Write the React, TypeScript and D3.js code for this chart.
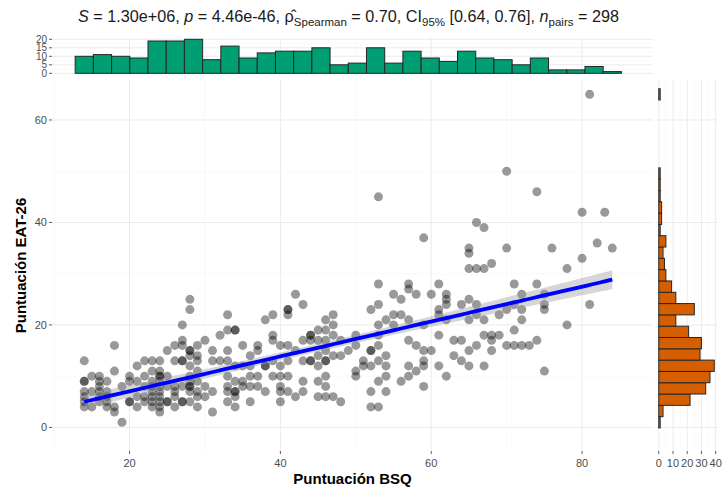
import React from "react";
import * as d3 from "d3";

// ---- data ----
const bsq = [
  14,14,14,14,14,14,14,15,15,15,
  16,16,16,16,16,16,17,17,17,17,17,
  18,18,18,18,19,19,20,20,20,20,
  21,21,21,21,22,22,22,22,22,
  23,23,23,23,23,23,23,23,24,24,24,24,24,24,24,24,24,24,24,
  25,25,25,25,25,26,26,26,26,26,26,27,27,27,27,27,27,27,27,
  28,28,28,28,28,28,28,28,28,28,28,28,29,29,29,29,29,29,29,29,
  30,30,30,31,31,31,31,32,32,
  33,33,33,33,33,33,33,33,34,34,34,34,34,34,34,34,
  35,35,35,35,36,36,36,36,36,
  37,37,37,37,38,38,38,38,39,39,39,39,39,
  40,40,40,40,40,40,41,41,41,41,41,41,41,
  42,42,42,43,43,43,43,43,44,44,44,44,44,
  45,45,45,45,45,45,46,46,46,46,46,46,46,46,46,
  47,47,47,47,47,48,48,48,
  49,50,50,50,50,51,51,
  52,52,52,52,52,52,53,53,53,53,53,53,53,53,53,
  54,54,54,54,54,55,55,55,56,56,56,
  57,57,57,57,57,57,58,58,58,
  59,59,59,59,59,59,60,60,61,61,61,61,61,
  62,62,62,62,62,63,63,
  64,64,64,65,65,65,65,65,65,65,
  66,66,66,66,66,67,67,67,67,67,68,68,68,68,
  69,69,70,70,70,70,
  71,71,71,71,72,72,72,72,73,
  74,74,74,75,75,75,75,
  76,78,78,80,80,81,81,82,83,84,
];
const eat = [
  13,9,9,7,6,5,4,10,7,4,
  10,9,8,7,6,5,9,7,6,5,4,
  16,11,4,3,1,8,10,9,5,5,
  12,9,6,4,13,10,8,6,5,
  13,11,9,8,7,6,5,4,13,11,10,10,9,8,7,6,5,4,3,
  15,10,8,5,5,16,13,8,7,6,4,20,17,16,13,13,8,5,5,
  25,23,15,15,14,12,10,9,8,8,7,5,16,14,13,11,9,7,6,4,
  17,8,6,15,13,7,3,18,13,
  22,19,15,13,10,8,7,5,19,19,12,9,7,7,6,4,
  16,12,9,8,14,12,10,8,5,
  16,15,10,8,21,12,12,7,22,18,17,13,10,
  16,12,10,8,7,5,23,23,22,16,13,10,7,
  26,15,6,24,17,13,9,7,18,18,17,13,13,
  19,17,14,12,9,6,21,19,17,15,13,13,10,8,6,
  22,20,18,14,6,17,14,5,
  15,18,16,11,10,13,12,
  23,15,15,12,7,4,45,28,24,20,18,16,13,9,4,
  21,14,12,10,7,26,22,20,25,22,9,
  28,27,21,17,12,10,26,16,11,
  37,20,15,13,12,8,26,15,28,23,22,18,12,
  26,25,24,21,10,17,14,
  24,17,13,35,34,31,25,21,15,12,
  40,31,24,22,16,39,31,21,18,12,32,18,17,15,
  22,18,50,35,23,16,
  28,24,19,16,26,23,21,16,16,
  46,28,17,26,24,23,11,
  35,31,20,42,33,65,24,36,42,35,
];

// marginal histogram counts (30 bins each)
const topCounts = [10,11,10,9,19,19,20,8,16,9,12,13,13,15,5,6,15,6,13,9,7,13,9,8,5,9,2,2,4,1];
const rightCounts = [1,3,22,33,36,39,29,30,21,12,25,12,9,5,4,3,5,1,2,2,1,1,1,0,0,0,0,0,0,1];
const xRangeData = [14, 84];
const yRangeData = [1, 65];

const xTicks = [20, 40, 60, 80];
const xMinor = [10, 30, 50, 70];
const yTicks = [0, 20, 40, 60];
const yMinor = [10, 30, 50];
const topTicks = [0, 5, 10, 15, 20];
const topMinor = [2.5, 7.5, 12.5, 17.5];
const rightTicks = [0, 10, 20, 30, 40];
const rightMinor = [5, 15, 25, 35];

const xLimits = [9.72, 89.4];
const yLimits = [-4.6, 67.8];
const topLimits = [-1, 21];
const rightLimits = [-1.95, 40.95];

const FONT = "'Liberation Sans', Arial, sans-serif";

export default function App() {
  const W = 723, H = 490;
  const main = { l: 52, r: 653, t: 80, b: 451 };
  const top = { t: 37.6, b: 75 };
  const rightP = { l: 656, r: 717 };

  const x = d3.scaleLinear().domain(xLimits).range([main.l, main.r]);
  const y = d3.scaleLinear().domain(yLimits).range([main.b, main.t]);
  const yTop = d3.scaleLinear().domain(topLimits).range([top.b, top.t]);
  const xRight = d3.scaleLinear().domain(rightLimits).range([rightP.l, rightP.r]);

  // regression with 95% CI
  const n = bsq.length;
  const mx = d3.mean(bsq)!, my = d3.mean(eat)!;
  let sxx = 0, sxy = 0;
  for (let i = 0; i < n; i++) { sxx += (bsq[i] - mx) ** 2; sxy += (bsq[i] - mx) * (eat[i] - my); }
  const b = sxy / sxx, a = my - b * mx;
  let sse = 0;
  for (let i = 0; i < n; i++) sse += (eat[i] - a - b * bsq[i]) ** 2;
  const s = Math.sqrt(sse / (n - 2));
  const tq = 1.968;
  const xmin = d3.min(bsq)!, xmax = d3.max(bsq)!;
  const grid = d3.range(0, 81).map(i => xmin + (xmax - xmin) * i / 80);
  const band = grid.map(gx => {
    const fit = a + b * gx;
    const se = s * Math.sqrt(1 / n + (gx - mx) ** 2 / sxx);
    return { x: gx, lo: fit - tq * se, hi: fit + tq * se, fit };
  });
  const area = d3.area<any>().x(d => x(d.x)).y0(d => y(d.lo)).y1(d => y(d.hi));
  const line = d3.line<any>().x(d => x(d.x)).y(d => y(d.fit));

  const wx = (xRangeData[1] - xRangeData[0]) / 29;
  const wy = (yRangeData[1] - yRangeData[0]) / 29;

  const gridMajor = "#EBEBEB";
  const gridMinor = "#F5F5F5";
  const tickCol = "#4D4D4D";
  const SUB = 11.5;

  return (
    <svg width={W} height={H} style={{ position: "absolute", left: 0, top: 0, background: "#fff" }} fontFamily={FONT}>
      <rect width={W} height={H} fill="#fff" />
      {/* subtitle */}
      <text x={78} y={22} fontSize={16.2} fill="#1a1a1a">
        <tspan fontStyle="italic">S</tspan>
        <tspan>{" = 1.30e+06, "}</tspan>
        <tspan fontStyle="italic">p</tspan>
        <tspan>{" = 4.46e-46, \u03C1\u0302"}</tspan>
        <tspan fontSize={SUB} dy={4}>Spearman</tspan>
        <tspan dy={-4}>{" = 0.70, CI"}</tspan>
        <tspan fontSize={SUB} dy={4}>95%</tspan>
        <tspan dy={-4}>{" [0.64, 0.76], "}</tspan>
        <tspan fontStyle="italic">n</tspan>
        <tspan fontSize={SUB} dy={4}>pairs</tspan>
        <tspan dy={-4}>{" = 298"}</tspan>
      </text>

      {/* top histogram panel */}
      <g>
        {topMinor.map(t => <line key={"tm" + t} x1={main.l} x2={main.r} y1={yTop(t)} y2={yTop(t)} stroke={gridMinor} strokeWidth={0.6} />)}
        {topTicks.map(t => <line key={"tt" + t} x1={main.l} x2={main.r} y1={yTop(t)} y2={yTop(t)} stroke={gridMajor} strokeWidth={1} />)}
        {xMinor.map(t => <line key={"txm" + t} x1={x(t)} x2={x(t)} y1={top.t} y2={top.b} stroke={gridMinor} strokeWidth={0.6} />)}
        {xTicks.map(t => <line key={"txt" + t} x1={x(t)} x2={x(t)} y1={top.t} y2={top.b} stroke={gridMajor} strokeWidth={1} />)}
        {topCounts.map((c, k) => {
          const x0 = xRangeData[0] - wx / 2 + k * wx;
          return <rect key={"tb" + k} x={x(x0)} width={x(x0 + wx) - x(x0)} y={yTop(c)} height={yTop(0) - yTop(c)} fill="#009E73" stroke="#262626" strokeWidth={1} />;
        })}
        {topTicks.map(t => (
          <g key={"tl" + t}>
            <line x1={main.l - 3} x2={main.l} y1={yTop(t)} y2={yTop(t)} stroke="#333" strokeWidth={0.8} />
            <text x={main.l - 5} y={yTop(t)} dy="0.35em" textAnchor="end" fontSize={10} fill={tickCol}>{t}</text>
          </g>
        ))}
      </g>

      {/* main panel grid */}
      <g>
        {yMinor.map(t => <line key={"ym" + t} x1={main.l} x2={main.r} y1={y(t)} y2={y(t)} stroke={gridMinor} strokeWidth={0.6} />)}
        {xMinor.map(t => <line key={"xm" + t} x1={x(t)} x2={x(t)} y1={main.t} y2={main.b} stroke={gridMinor} strokeWidth={0.6} />)}
        {yTicks.map(t => <line key={"yg" + t} x1={main.l} x2={main.r} y1={y(t)} y2={y(t)} stroke={gridMajor} strokeWidth={1} />)}
        {xTicks.map(t => <line key={"xg" + t} x1={x(t)} x2={x(t)} y1={main.t} y2={main.b} stroke={gridMajor} strokeWidth={1} />)}
      </g>

      {/* points */}
      <g>
        {bsq.map((v, i) => <circle key={"p" + i} cx={x(v)} cy={y(eat[i])} r={4.5} fill="#000" fillOpacity={0.4} />)}
      </g>

      {/* regression */}
      <path d={area(band)!} fill="#999999" fillOpacity={0.4} />
      <path d={line(band)!} fill="none" stroke="#0000FF" strokeWidth={3.8} />

      {/* main axes */}
      {yTicks.map(t => (
        <g key={"yt" + t}>
          <line x1={main.l - 3} x2={main.l} y1={y(t)} y2={y(t)} stroke="#333" strokeWidth={0.8} />
          <text x={main.l - 5} y={y(t)} dy="0.35em" textAnchor="end" fontSize={11} fill={tickCol}>{t}</text>
        </g>
      ))}
      {xTicks.map(t => (
        <g key={"xt" + t}>
          <line x1={x(t)} x2={x(t)} y1={main.b} y2={main.b + 3} stroke="#333" strokeWidth={0.8} />
          <text x={x(t)} y={main.b + 16} textAnchor="middle" fontSize={11} fill={tickCol}>{t}</text>
        </g>
      ))}
      <text x={(main.l + main.r) / 2} y={484} textAnchor="middle" fontSize={15} fontWeight="bold" fill="#000">Puntuación BSQ</text>
      <text transform={`translate(26,${(main.t + main.b) / 2}) rotate(-90)`} textAnchor="middle" fontSize={15} fontWeight="bold" fill="#000">Puntuación EAT-26</text>

      {/* right histogram panel */}
      <g>
        {rightMinor.map(t => <line key={"rm" + t} x1={xRight(t)} x2={xRight(t)} y1={main.t} y2={main.b} stroke={gridMinor} strokeWidth={0.6} />)}
        {rightTicks.map(t => <line key={"rg" + t} x1={xRight(t)} x2={xRight(t)} y1={main.t} y2={main.b} stroke={gridMajor} strokeWidth={1} />)}
        {yTicks.map(t => <line key={"rhy" + t} x1={rightP.l} x2={rightP.r} y1={y(t)} y2={y(t)} stroke={gridMajor} strokeWidth={1} />)}
        {rightCounts.map((c, k) => {
          if (c === 0) return null;
          const y0 = yRangeData[0] - wy / 2 + k * wy;
          return <rect key={"rb" + k} x={xRight(0)} width={xRight(c) - xRight(0)} y={y(y0 + wy)} height={y(y0) - y(y0 + wy)} fill="#D55E00" stroke="#262626" strokeWidth={1} />;
        })}
        {rightTicks.map(t => (
          <g key={"rt" + t}>
            <line x1={xRight(t)} x2={xRight(t)} y1={main.b} y2={main.b + 3} stroke="#333" strokeWidth={0.8} />
            <text x={xRight(t)} y={main.b + 16} textAnchor="middle" fontSize={11} fill={tickCol}>{t}</text>
          </g>
        ))}
      </g>
    </svg>
  );
}
